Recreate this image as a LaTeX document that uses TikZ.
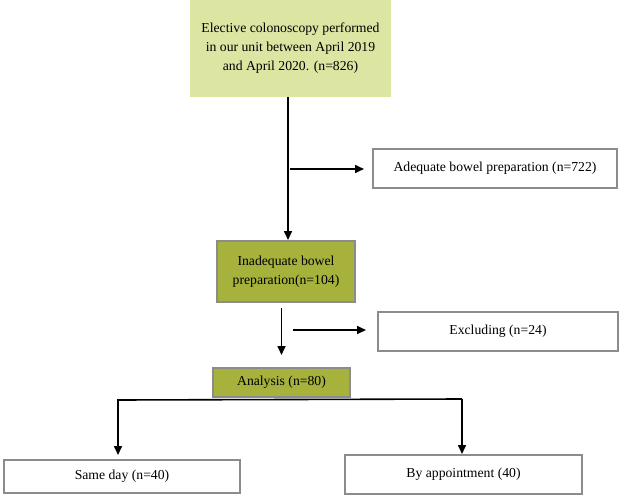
\documentclass[tikz,border=0pt]{standalone}
\usepackage{fontspec}
\setmainfont{Liberation Serif}
\usetikzlibrary{arrows.meta}

\definecolor{lightolive}{RGB}{221,229,163}
\definecolor{darkolive}{RGB}{166,178,60}
\definecolor{boxgray}{RGB}{140,140,140}

\begin{document}
\begin{tikzpicture}[x=1pt, y=-1pt, >={Triangle[length=9pt, width=8pt]},
    font=\fontsize{13.7}{19}\selectfont,
    box/.style={draw=boxgray, line width=2pt, rectangle, align=center, inner sep=0pt},
    arr/.style={->, line width=1.6pt}]
    \useasboundingbox (0,0) rectangle (623,497);

    \node[rectangle, fill=lightolive, minimum width=201pt, minimum height=97pt, align=center]
        (total) at (290.5,48.5) {Elective colonoscopy performed\\in our unit between April 2019\\and April 2020. (n=826)};
    \node[box, fill=white, minimum width=244pt, minimum height=39pt]
        (adequate) at (495,168.5) {Adequate bowel preparation (n=722)};
    \node[box, fill=darkolive, minimum width=138pt, minimum height=61pt]
        (inadequate) at (286,271.5) {Inadequate bowel\\preparation(n=104)};
    \node[box, fill=white, minimum width=240pt, minimum height=39pt]
        (excluding) at (498,331.5) {Excluding (n=24)};
    \node[box, fill=darkolive, minimum width=137pt, minimum height=29pt]
        (analysis) at (281.5,382.5) {Analysis (n=80)};
    \node[box, fill=white, minimum width=236pt, minimum height=33pt]
        (sameday) at (122,476.5) {Same day (n=40)};
    \node[box, fill=white, minimum width=237pt, minimum height=39pt]
        (appoint) at (463.5,474.5) {By appointment (40)};

    % branches
    \coordinate (b1) at (290,169);
    \coordinate (b2) at (293,330);
    \coordinate (sl) at (118,400);
    \coordinate (sr) at (462,399);

    \draw[arr] ([xshift=-2.5pt]total.south) -- ([xshift=-2.5pt]total.south |- inadequate.north);
    \draw[arr, shorten >=8pt] (b1) -- (b1 -| adequate.west);
    \draw[arr, shorten <=5pt, shorten >=12pt] (inadequate.south -| analysis.north) -- (analysis.north);
    \draw[arr, shorten >=11pt] (b2) -- (b2 -| excluding.west);
    \draw[arr, shorten >=4pt] (sr) -- (sl) -- (sl |- sameday.north);
    \draw[arr] (sr) -- (sr |- appoint.north);
\end{tikzpicture}
\end{document}
